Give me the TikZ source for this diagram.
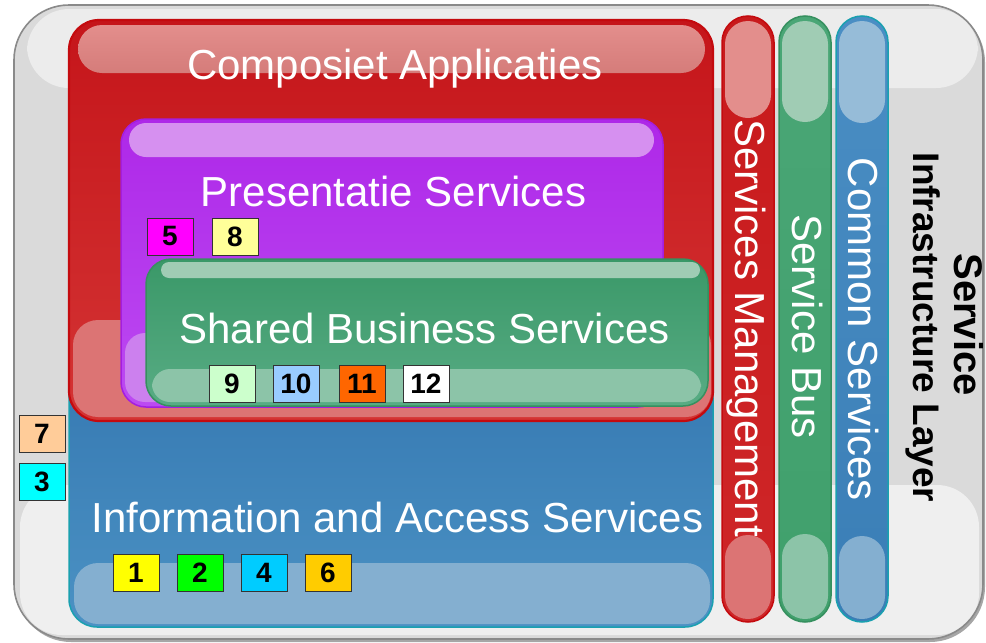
\documentclass[tikz,border=0pt]{standalone}
\usepackage{fontspec}
\setmainfont{Liberation Sans}
\definecolor{outerMid}{HTML}{DADADA}
\definecolor{outerHi}{HTML}{ECECEC}
\definecolor{outerLo}{HTML}{EFEFEF}
\definecolor{outerLine}{HTML}{8A8A8A}
\definecolor{redTop}{HTML}{C5151A}
\definecolor{redBot}{HTML}{D43434}
\definecolor{redLine}{HTML}{C40A0E}
\definecolor{redHiTop}{HTML}{E38E8C}
\definecolor{redHiBot}{HTML}{D57C7A}
\definecolor{redLo}{HTML}{DC7474}
\definecolor{purTop}{HTML}{AE28E8}
\definecolor{purBot}{HTML}{BC4AF2}
\definecolor{purLine}{HTML}{A41EE0}
\definecolor{purHi}{HTML}{D690F0}
\definecolor{purLo}{HTML}{CC80EE}
\definecolor{grnTop}{HTML}{3A9868}
\definecolor{grnBot}{HTML}{58AC84}
\definecolor{grnLine}{HTML}{36905F}
\definecolor{grnHi}{HTML}{A0CCB4}
\definecolor{grnLo}{HTML}{8CC4A8}
\definecolor{bluTop}{HTML}{3679B2}
\definecolor{bluBot}{HTML}{4B92C4}
\definecolor{bluLine}{HTML}{1AA0B0}
\definecolor{bluHi}{HTML}{96BCD8}
\definecolor{bluLo}{HTML}{84AFD0}
\definecolor{pRedTop}{HTML}{C81A1C}
\definecolor{pRedBot}{HTML}{CE2628}
\definecolor{pGrnTop}{HTML}{4AA676}
\definecolor{pGrnBot}{HTML}{40A06C}
\definecolor{pBluTop}{HTML}{4A8EC4}
\definecolor{pBluBot}{HTML}{3A7EB6}
\definecolor{cMagenta}{HTML}{FF00FF}
\definecolor{cPaleYel}{HTML}{FFFF99}
\definecolor{cPaleGrn}{HTML}{CCFFCC}
\definecolor{cPaleBlu}{HTML}{99CCFF}
\definecolor{cOrange}{HTML}{FF6600}
\definecolor{cPeach}{HTML}{FFCC99}
\definecolor{cCyan}{HTML}{00FFFF}
\definecolor{cYellow}{HTML}{FFFF00}
\definecolor{cGreen}{HTML}{00FF00}
\definecolor{cSky}{HTML}{00CCFF}
\definecolor{cGold}{HTML}{FFCC00}
\begin{document}
\begin{tikzpicture}[x=1pt,y=-1pt,
  bigtxt/.style={text=white,font=\fontsize{42}{50}\selectfont,inner sep=0pt,anchor=base},
  sidetxt/.style={text=black,font=\bfseries\fontsize{37}{40}\selectfont,inner sep=0pt,anchor=base,rotate=-90},
  numbox/.style={draw=black!80,line width=0.8pt,minimum width=46pt,minimum height=37pt,inner sep=0pt,font=\bfseries\fontsize{28}{30}\selectfont},
]
\useasboundingbox (0,0) rectangle (986,643);

% outer frame
\fill[black!35, rounded corners=55pt] (16,7) rectangle (985,642);
\fill[outerMid, rounded corners=55pt] (14,5) rectangle (983,639);
\fill[outerHi, rounded corners=42pt] (27,9) rectangle (978,88);
\fill[outerLo, rounded corners=42pt] (20,485) rectangle (979,635);
\draw[outerLine, line width=1.6pt, rounded corners=55pt] (14,5) rectangle (983,639);

% Information and Access Services (blue)
\shadedraw[rounded corners=28pt, top color=bluTop, bottom color=bluBot, draw=bluLine, line width=1.5pt] (69,370) rectangle (713,627);
\fill[bluLo, rounded corners=24pt] (74,563) rectangle (710,624);

% Composiet Applicaties (red)
\shade[rounded corners=30pt, top color=redTop, bottom color=redBot] (69,20) rectangle (713,421);
\shade[rounded corners=24pt, top color=redHiTop, bottom color=redHiBot] (78,25) rectangle (705,73);
\fill[redLo, rounded corners=25pt] (73,320) rectangle (711,417);
\draw[redLine, line width=2.2pt, rounded corners=30pt] (69,20) rectangle (713,421);

% Presentatie Services (purple)
\shadedraw[rounded corners=25pt, top color=purTop, bottom color=purBot, draw=purLine, line width=1.5pt] (121,119) rectangle (663,407);
\fill[purHi, rounded corners=17pt] (129,123) rectangle (654,157);
\fill[purLo, rounded corners=20pt] (125,333) rectangle (659,402);

% Shared Business Services (green)
\shadedraw[rounded corners=25pt, top color=grnTop, bottom color=grnBot, draw=grnLine, line width=1.5pt] (146,259) rectangle (708,406);
\fill[grnHi, rounded corners=8pt] (161,262) rectangle (700,278);
\fill[grnLo, rounded corners=18pt] (152,369) rectangle (701,402);

% vertical pills
\shadedraw[rounded corners=26pt, top color=pRedTop, bottom color=pRedBot, draw=redLine, line width=1.5pt] (722,16) rectangle (774,622);
\fill[redHiTop, rounded corners=23pt] (725,21) rectangle (771,118);
\fill[redLo, rounded corners=23pt] (725,535) rectangle (771,619);

\shadedraw[rounded corners=26pt, top color=pGrnTop, bottom color=pGrnBot, draw=grnLine, line width=1.5pt] (779,16) rectangle (831,622);
\fill[grnHi, rounded corners=23pt] (782,21) rectangle (828,122);
\fill[grnLo, rounded corners=23pt] (782,534) rectangle (828,619);

\shadedraw[rounded corners=26pt, top color=pBluTop, bottom color=pBluBot, draw=bluLine, line width=1.5pt] (836,16) rectangle (888,622);
\fill[bluHi, rounded corners=23pt] (839,21) rectangle (885,123);
\fill[bluLo, rounded corners=23pt] (839,536) rectangle (885,619);

% big labels
\node[bigtxt] (tComp) at (395,79) {Composiet Applicaties};
\node[bigtxt] (tPres) at (393.5,206) {Presentatie Services};
\node[bigtxt] (tShared) at (424.5,343) {Shared Business Services};
\node[bigtxt] (tInfo) at (397.5,532) {Information and Access Services};

\node[bigtxt, rotate=-90] (tMgmt) at (735,328) {Services Management};
\node[bigtxt, rotate=-90] (tBus) at (792,326.5) {Service Bus};
\node[bigtxt, rotate=-90] (tCommon) at (848,329.5) {Common Services};

\node[sidetxt, font=\bfseries\fontsize{40}{44}\selectfont] (tService) at (954,324.5) {Service};
\node[sidetxt] (tInfra) at (913,327.5) {Infrastructure Layer};

% numbered boxes
\node[numbox, fill=cMagenta] (n5) at (170,236.5) {5};
\node[numbox, fill=cPaleYel] (n8) at (235,236.5) {8};
\node[numbox, fill=cPaleGrn] (n9) at (232,383.5) {9};
\node[numbox, fill=cPaleBlu] (n10) at (296,383.5) {10};
\node[numbox, fill=cOrange] (n11) at (362,383.5) {11};
\node[numbox, fill=white] (n12) at (426,383.5) {12};
\node[numbox, fill=cPeach] (n7) at (42,433.5) {7};
\node[numbox, fill=cCyan] (n3) at (42,481.5) {3};
\node[numbox, fill=cYellow] (n1) at (136,572.5) {1};
\node[numbox, fill=cGreen] (n2) at (200,572.5) {2};
\node[numbox, fill=cSky] (n4) at (264,572.5) {4};
\node[numbox, fill=cGold] (n6) at (328,572.5) {6};
\end{tikzpicture}
\end{document}
